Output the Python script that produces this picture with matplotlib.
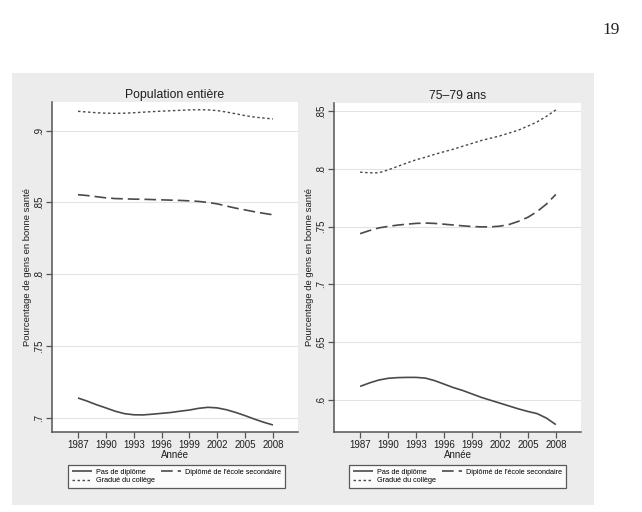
import matplotlib
matplotlib.use("Agg")
import matplotlib.pyplot as plt
from matplotlib.patches import Rectangle

plt.rcParams['font.family'] = ['Liberation Sans', 'DejaVu Sans']

years = list(range(1987, 2009))

# Population entière
all_pas = [.7137, .7115, .7090, .7068, .7045, .7028, .7020, .7019, .7024, .7030, .7036,
           .7045, .7053, .7065, .7072, .7068, .7055, .7036, .7014, .6990, .6968, .6949]
all_sec = [.8554, .8548, .8540, .8532, .8527, .8525, .8523, .8522, .8520, .8518, .8516,
           .8514, .8511, .8507, .8500, .8490, .8475, .8460, .8448, .8435, .8424, .8414]
all_col = [.9135, .9130, .9125, .9122, .9121, .9122, .9125, .9129, .9133, .9136, .9139,
           .9142, .9145, .9146, .9145, .9140, .9130, .9118, .9105, .9095, .9088, .9082]

# 75-79 ans
old_pas = [.6115, .6145, .6170, .6185, .6191, .6193, .6193, .6187, .6165, .6135, .6105,
           .6080, .6050, .6020, .5995, .5970, .5945, .5920, .5898, .5879, .5840, .5784]
old_sec = [.7438, .7465, .7488, .7501, .7512, .7520, .7527, .7530, .7527, .7520, .7513,
           .7506, .7500, .7497, .7497, .7503, .7518, .7545, .7580, .7630, .7695, .7778]
old_col = [.7971, .7965, .7965, .7990, .8020, .8050, .8078, .8100, .8125, .8148, .8170,
           .8195, .8220, .8245, .8265, .8285, .8310, .8335, .8370, .8407, .8455, .8510]

xticks = [1987, 1990, 1993, 1996, 1999, 2002, 2005, 2008]
left_yticks = [.7, .75, .8, .85, .9]
left_ylabels = ['.7', '.75', '.8', '.85', '.9']
right_yticks = [.6, .65, .7, .75, .8, .85]
right_ylabels = ['.6', '.65', '.7', '.75', '.8', '.85']

labels = ["Pas de diplôme", "Diplômé de l'école secondaire", "Gradué du collège"]
titles = ["Population entière", "75–79 ans"]

W, H = 642, 512
fig = plt.figure(figsize=(6.42, 5.12), dpi=100)
fig.patch.set_facecolor('white')

# gray graph region
fig.patches.append(Rectangle((12 / W, 1 - 505 / H), 582 / W, 432 / H,
                             transform=fig.transFigure, facecolor='#ececec',
                             edgecolor='none', zorder=-10))

fig.text(611 / W, 1 - 30 / H, "19", family=['Liberation Serif', 'DejaVu Serif'],
         fontsize=12.5, ha='center', va='center', color='#222222')

lc = '#4a4a4a'
axc = '#555555'
tc = '#1e1e1e'

def panel(rect, pas, sec, col, yticks, ylabels, ylim, title, leg_center):
    ax = fig.add_axes(rect)
    ax.set_zorder(1)
    ax.set_facecolor('white')
    l1, = ax.plot(years, pas, color=lc, lw=1.2, solid_capstyle='butt')
    l2, = ax.plot(years, sec, color=lc, lw=1.2)
    l2.set_dashes([7, 3])
    l3, = ax.plot(years, col, color=lc, lw=1.0)
    l3.set_dashes([1.8, 1.8])
    ax.set_xlim(1984.2, 2010.7)
    ax.set_ylim(*ylim)
    ax.set_xticks(xticks)
    ax.set_xticklabels([str(x) for x in xticks], fontsize=7, color=tc)
    ax.set_yticks(yticks)
    ax.set_yticklabels(ylabels, fontsize=7, rotation=90, va='center', color=tc)
    ax.grid(axis='y', color='#e3e3e3', lw=0.8)
    ax.set_axisbelow(True)
    for s in ['top', 'right']:
        ax.spines[s].set_visible(False)
    for s in ['left', 'bottom']:
        ax.spines[s].set_color(axc)
        ax.spines[s].set_linewidth(1.1)
    ax.tick_params(axis='both', direction='out', length=4, width=0.9, color=axc, pad=2)
    ax.set_title(title, fontsize=8.8, pad=3, color=tc)
    ax.set_xlabel("Année", fontsize=7, labelpad=0, color=tc)
    ax.set_ylabel("Pourcentage de gens en bonne santé", fontsize=6.8, labelpad=1,
                  color=tc)
    # order so that rows read: Pas | Diplômé / Gradué
    handles = [l1, l3, l2]
    hl = [labels[0], labels[2], labels[1]]
    leg = ax.legend(handles, hl, loc='center', bbox_to_anchor=leg_center,
                    bbox_transform=fig.transFigure, ncol=2,
                    fontsize=5.2, frameon=True, fancybox=False, handlelength=2.8,
                    handletextpad=0.5, borderpad=0.5, labelspacing=0.15,
                    columnspacing=0.9, borderaxespad=0)
    leg.get_frame().set_edgecolor('#333333')
    leg.get_frame().set_linewidth(0.9)
    return ax

panel([52 / W, 1 - 432 / H, 246 / W, 330 / H], all_pas, all_sec, all_col,
      left_yticks, left_ylabels, (0.690, 0.920), titles[0],
      (176.5 / W, 1 - 476.5 / H))
panel([334 / W, 1 - 432 / H, 247 / W, 329 / H], old_pas, old_sec, old_col,
      right_yticks, right_ylabels, (0.572, 0.857), titles[1],
      (457.5 / W, 1 - 476.5 / H))

fig.savefig('out.png', dpi=100)
